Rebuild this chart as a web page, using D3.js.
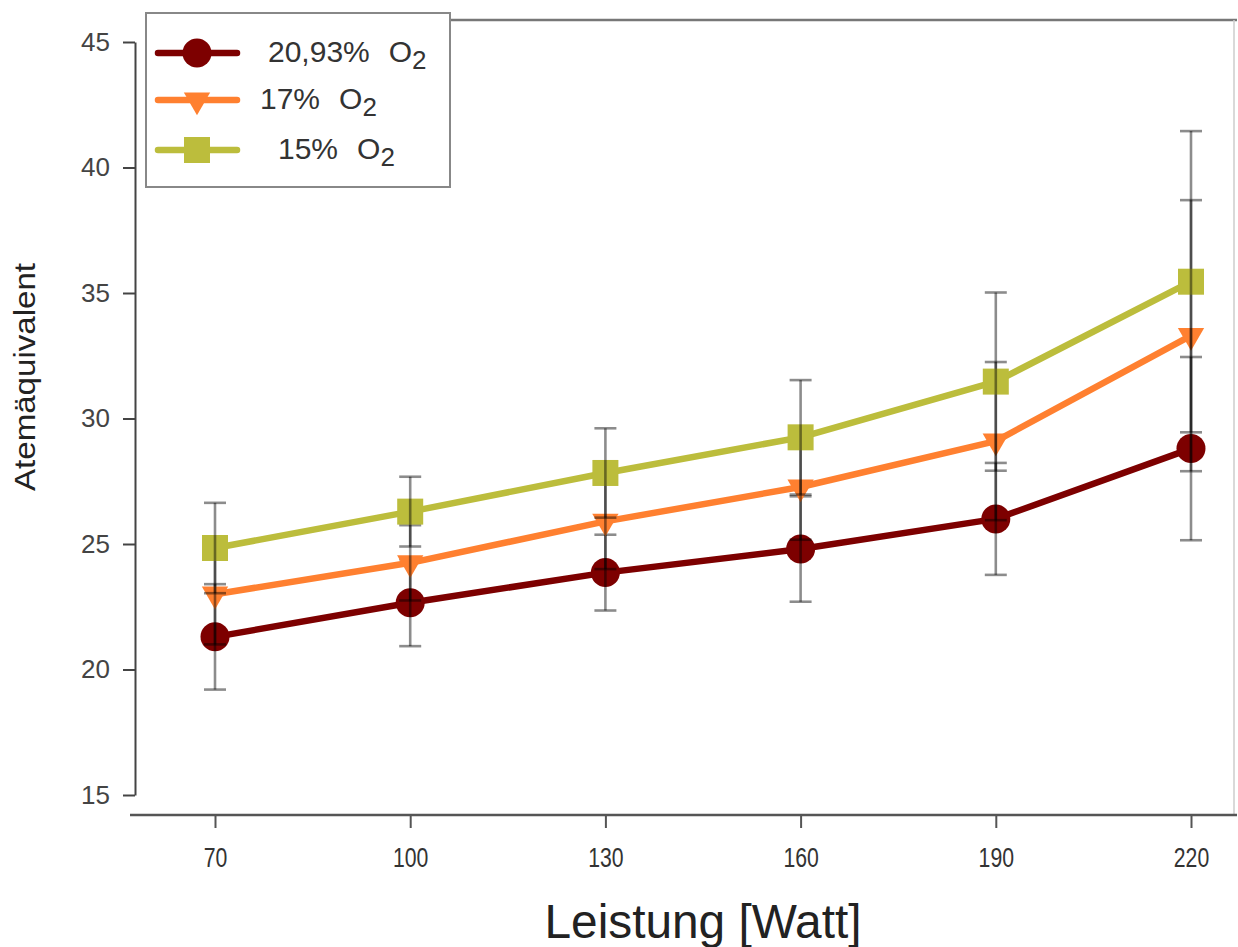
<!DOCTYPE html>
<html>
<head>
<meta charset="utf-8">
<script src="https://cdn.jsdelivr.net/npm/d3@7"></script>
<style>
  body { margin: 0; background: #fff; }
  svg { display: block; font-family: "Liberation Sans", Arial, sans-serif; }
</style>
</head>
<body>
<div id="chart"></div>
<script>
// Leistung (x categories)
const watts = [70, 100, 130, 160, 190, 220];
const yTicks = [15, 20, 25, 30, 35, 40, 45];

// Atemäquivalent per O2 condition (mean and error)
const o2Normal = [21.3, 22.66, 23.86, 24.8, 26.0, 28.8];
const o2NormalErr = [2.1, 1.73, 1.51, 2.1, 2.23, 3.65];
const o2Seventeen = [23.0, 24.25, 25.9, 27.27, 29.1, 33.3];
const o2SeventeenErr = [2.0, 1.5, 1.9, 2.1, 3.15, 5.4];
const o2Fifteen = [24.84, 26.29, 27.83, 29.25, 31.47, 35.45];
const o2FifteenErr = [1.8, 1.39, 1.78, 2.28, 3.55, 6.0];

const seriesNames = ['20,93%', '17%', '15%'];

const series = [
    { name: seriesNames[0], values: o2Normal, errs: o2NormalErr, color: '#7d0000', shape: 'circle' },
    { name: seriesNames[1], values: o2Seventeen, errs: o2SeventeenErr, color: '#ff8030', shape: 'triangle' },
    { name: seriesNames[2], values: o2Fifteen, errs: o2FifteenErr, color: '#bcbd3c', shape: 'square' }
];

const width = 1238;
const height = 947;

const svg = d3.select('#chart')
    .append('svg')
    .attr('width', width)
    .attr('height', height);

const x = d3.scaleLinear().domain([70, 220]).range([215, 1191]);
const y = d3.scaleLinear().domain([15, 45]).range([795, 42]);

const symbolPath = {
    circle: d3.symbol().type(d3.symbolCircle).size(Math.PI * 14.5 * 14.5)(),
    square: d3.symbol().type(d3.symbolSquare).size(26 * 26)(),
    triangle: d3.symbol().type(d3.symbolTriangle).size(300)()
};

function drawMarker(g, shape, color) {
    g.append('path')
        .attr('d', symbolPath[shape])
        .attr('transform', shape === 'triangle' ? 'rotate(180)' : null)
        .attr('fill', color);
}

// frame lines (top and right)
svg.append('line')
    .attr('x1', 146).attr('x2', width - 1)
    .attr('y1', 20).attr('y2', 20)
    .attr('stroke', '#777').attr('stroke-width', 2.5);
svg.append('line')
    .attr('x1', width - 4).attr('x2', width - 4)
    .attr('y1', 20).attr('y2', 815)
    .attr('stroke', '#ccc').attr('stroke-width', 1.5);

// y axis
const yAxis = svg.append('g')
    .attr('transform', 'translate(135,0)')
    .call(d3.axisLeft(y).tickValues(yTicks).tickSize(12).tickSizeOuter(0).tickPadding(13));
yAxis.select('.domain').attr('stroke', '#444').attr('stroke-width', 2);
yAxis.selectAll('.tick line').attr('stroke', '#444').attr('stroke-width', 2);
yAxis.selectAll('.tick text')
    .attr('fill', '#444')
    .style('font-size', '26px')
    .style('font-family', '"Liberation Sans", Arial, sans-serif');

// x axis
const xAxis = svg.append('g')
    .attr('transform', 'translate(0,815)')
    .call(d3.axisBottom(x).tickValues(watts).tickSize(13).tickSizeOuter(0).tickPadding(19));
xAxis.select('.domain').remove();
xAxis.append('line')
    .attr('x1', 130).attr('x2', width - 1)
    .attr('stroke', '#555').attr('stroke-width', 2.5);
xAxis.selectAll('.tick line').attr('stroke', '#555').attr('stroke-width', 2);
xAxis.selectAll('.tick text')
    .attr('fill', '#333')
    .style('font-size', '28px')
    .style('font-family', '"Liberation Sans", Arial, sans-serif')
    .attr('textLength', d => String(d).length * 11.8)
    .attr('lengthAdjust', 'spacingAndGlyphs');

// axis titles
svg.append('text')
    .attr('x', 703)
    .attr('y', 938)
    .attr('text-anchor', 'middle')
    .attr('fill', '#222')
    .style('font-size', '48px')
    .attr('textLength', 317)
    .attr('lengthAdjust', 'spacingAndGlyphs')
    .text('Leistung [Watt]');

svg.append('text')
    .attr('transform', 'translate(35,377) rotate(-90)')
    .attr('text-anchor', 'middle')
    .attr('fill', '#222')
    .style('font-size', '29px')
    .attr('textLength', 228)
    .attr('lengthAdjust', 'spacingAndGlyphs')
    .text('Atemäquivalent');

// series
const line = d3.line()
    .x((d, i) => x(watts[i]))
    .y(d => y(d));

series.forEach(s => {
    const g = svg.append('g');

    g.append('path')
        .datum(s.values)
        .attr('d', line)
        .attr('fill', 'none')
        .attr('stroke', s.color)
        .attr('stroke-width', 6.5)
        .attr('stroke-linejoin', 'round');

    s.values.forEach((v, i) => {
        const m = g.append('g').attr('transform', `translate(${x(watts[i])},${y(v)})`);
        drawMarker(m, s.shape, s.color);
    });

    // error bars
    const eb = g.append('g')
        .attr('stroke', 'rgba(0,0,0,0.45)')
        .attr('stroke-width', 2.6);
    s.values.forEach((v, i) => {
        const cx = x(watts[i]);
        const lo = y(v - s.errs[i]);
        const hi = y(v + s.errs[i]);
        eb.append('line').attr('x1', cx).attr('x2', cx).attr('y1', lo).attr('y2', hi);
        eb.append('line').attr('x1', cx - 11).attr('x2', cx + 11).attr('y1', lo).attr('y2', lo);
        eb.append('line').attr('x1', cx - 11).attr('x2', cx + 11).attr('y1', hi).attr('y2', hi);
    });
});

// legend
const legend = svg.append('g');
legend.append('rect')
    .attr('x', 146).attr('y', 13)
    .attr('width', 304).attr('height', 174)
    .attr('fill', '#fff')
    .attr('stroke', '#888')
    .attr('stroke-width', 2);

const legendRowY = [53, 100, 150];
const legendTextX = [268, 260, 278];

series.forEach((s, i) => {
    const row = legend.append('g');
    row.append('line')
        .attr('x1', 158).attr('x2', 237)
        .attr('y1', legendRowY[i]).attr('y2', legendRowY[i])
        .attr('stroke', s.color)
        .attr('stroke-width', 6.5)
        .attr('stroke-linecap', 'round');
    const m = row.append('g').attr('transform', `translate(197,${legendRowY[i]})`);
    drawMarker(m, s.shape, s.color);

    const t = row.append('text')
        .attr('x', legendTextX[i])
        .attr('y', legendRowY[i] + 9)
        .attr('fill', '#333')
        .style('font-size', '30px')
        .text(s.name);
    t.append('tspan').attr('dx', 19).text('O');
    t.append('tspan').attr('dy', 7).style('font-size', '26px').text('2');
});
</script>
</body>
</html>
